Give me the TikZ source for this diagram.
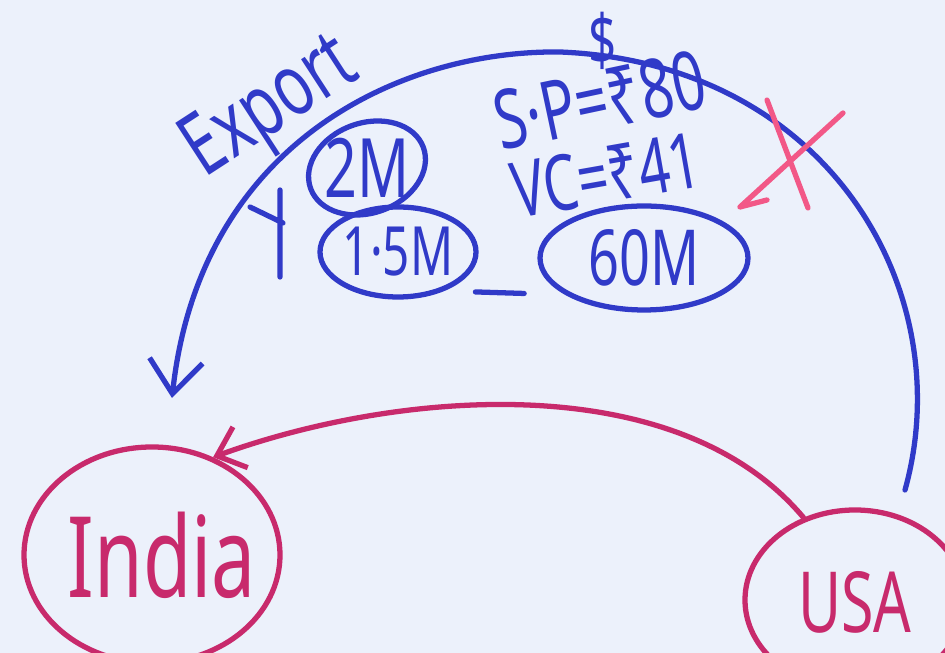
\documentclass[tikz,border=0pt]{standalone}
\usepackage{fontspec}
\usetikzlibrary{shapes.geometric,arrows.meta}
\newfontfamily\handfont[FakeStretch=0.7]{Noto Sans}
\definecolor{inkblue}{RGB}{48,58,200}
\definecolor{inkred}{RGB}{200,42,108}
\definecolor{inkpink}{RGB}{242,88,135}
\definecolor{board}{RGB}{236,241,251}
\def\unit{0.03cm}
\def\inkwidth{4.5pt}
\def\handsize#1{\handfont\fontsize{#1}{#1}\selectfont}

\begin{document}
\begin{tikzpicture}[x=\unit,y=\unit,line cap=round,line join=round]
            \tikzstyle{blue ink}=[draw=inkblue,line width=\inkwidth]
            \tikzstyle{red ink}=[draw=inkred,line width=\inkwidth]
            \tikzstyle{bubble}=[ellipse,blue ink,inner sep=0pt]
            \tikzstyle{country}=[ellipse,red ink,inner sep=0pt]
            \tikzstyle{note}=[text=inkblue,inner sep=0pt]

            % The board
            \fill[board] (0,0) rectangle (945,653);
            \useasboundingbox (0,0) rectangle (945,653);

            % Draw the two countries
            \node[country,minimum width=256*\unit,minimum height=216*\unit,
                label={[text=inkred,font=\handsize{96pt},xshift=10*\unit]center:India}] (INDIA) at (152,98) {};
            \node[country,minimum width=220*\unit,minimum height=180*\unit,
                label={[text=inkred,font=\handsize{72pt},yshift=-2*\unit]center:USA}] (USA) at (855,53) {};

            % Draw the quantities
            \foreach \name / \x / \y / \w / \h / \r / \s / \txt in
                {1/367/485/120/90/20/70pt/2M, 2/398/401/156/90/0/58pt/1·5M, 3/644/395/208/104/0/66pt/60M}
                \node[bubble,rotate=\r,minimum width=\w*\unit,minimum height=\h*\unit,
                    label={[note,font=\handsize{\s}]center:\txt}] (Q-\name) at (\x,\y) {};

            \draw[blue ink,shorten <=0.93cm,shorten >=1.23cm] (Q-2.-40) -- (Q-3.205);

            % Prices
            \node[note,rotate=12,font=\handsize{70pt}] (SP) at (600,553) {S·P=₹80};
            \node[note,rotate=10,font=\handsize{66pt}] (VC) at (606,478) {VC=₹41};
            \node[note,font=\handsize{60pt}] (DOLLAR) at (603,612) {\$};
            \node[note,rotate=33,font=\handsize{74pt}] (EXPORT) at (272,543) {Export};

            % The export arc from USA back to India
            \coordinate (ARCSTART) at (905,163);
            \coordinate (ARCTOP) at (560,601);
            \coordinate (ARCEND) at (172,255);
            \draw[blue ink,-{Straight Barb[length=1cm,width=1.6cm]}] (ARCSTART)
                .. controls (960,360) and (830,590) .. (ARCTOP)
                .. controls (400,603) and (200,510) .. (ARCEND);
            \draw[blue ink] (250,446) -- (283,430) (280,463) -- (280,376);

            % Crossed out
            \draw[draw=inkpink,line width=\inkwidth] (767,553) -- (808,445) (843,540) -- (740,446) -- (767,453);

            \draw[red ink,-{Straight Barb[length=0.75cm,width=1.3cm]}] (USA.122) to[out=130,in=20,looseness=0.85] (INDIA.58);
\end{tikzpicture}
\end{document}
